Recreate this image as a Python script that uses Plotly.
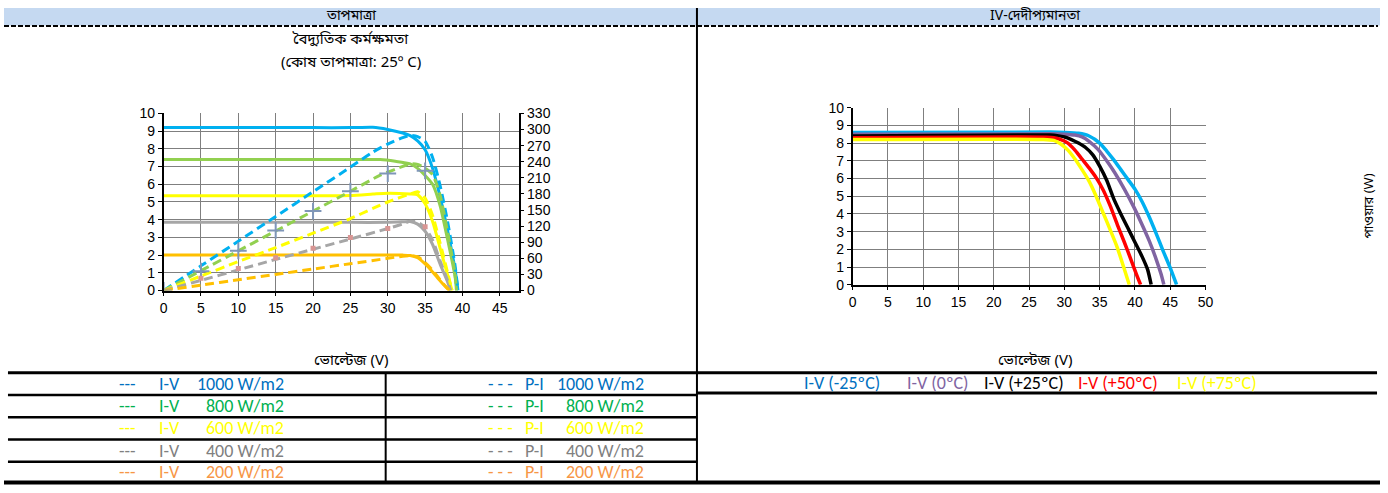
import plotly.graph_objects as go

W, H = 1388, 493


def px(x):
    return x / W


def py(y):
    return 1 - y / H


# ---------------- Left chart: irradiance (cell temperature 25 C) ----------------
IRR_LABELS = ["1000 W/m2", "800 W/m2", "600 W/m2", "400 W/m2", "200 W/m2"]

V_1000 = [0, 5, 10, 15, 20, 25, 28, 30, 32, 33, 34, 35, 36, 37, 38, 39, 39.4]
I_1000 = [9.2, 9.2, 9.2, 9.2, 9.2, 9.2, 9.22, 9.1, 8.9, 8.75, 8.45, 7.95, 6.9, 5.3, 3.4, 1.2, 0]
P_1000 = [0, 46, 92, 138, 184, 230, 258, 273, 285, 289, 287, 278, 248, 196, 129, 47, 0]

V_800 = [0, 5, 10, 15, 20, 25, 29, 31, 33, 34, 35, 36, 37, 38, 39, 39.2]
I_800 = [7.4, 7.4, 7.4, 7.4, 7.4, 7.4, 7.4, 7.3, 7.15, 6.9, 6.5, 6.0, 4.8, 2.9, 0.8, 0]
P_800 = [0, 37, 74, 111, 148, 185, 215, 226, 236, 235, 228, 216, 178, 110, 31, 0]

V_600 = [0, 5, 10, 15, 20, 25, 28, 30, 33, 34, 35, 36, 37, 38, 38.6]
I_600 = [5.35, 5.35, 5.35, 5.35, 5.35, 5.37, 5.45, 5.5, 5.45, 5.4, 4.9, 3.9, 2.4, 0.9, 0]
P_600 = [0, 27, 54, 80, 107, 134, 153, 165, 180, 184, 172, 140, 89, 34, 0]

V_400 = [0, 5, 10, 15, 20, 25, 30, 32, 33, 34, 35, 36, 37, 38, 38.4]
I_400 = [3.85, 3.85, 3.85, 3.85, 3.85, 3.85, 3.85, 3.88, 3.9, 3.75, 3.35, 2.6, 1.5, 0.5, 0]
P_400 = [0, 19, 38.5, 58, 77, 96, 115.5, 124, 129, 127.5, 117, 94, 55.5, 19, 0]

V_200 = [0, 5, 10, 15, 20, 25, 30, 32, 33, 34, 35, 36, 37, 38, 38.3]
I_200 = [2.0, 2.0, 2.0, 2.0, 2.0, 2.0, 2.0, 2.0, 1.98, 1.85, 1.5, 1.05, 0.55, 0.1, 0]
P_200 = [0, 10, 20, 30, 40, 50, 60, 64, 65, 63, 52, 38, 20, 4, 0]

CROSS_V = [0, 5, 10, 15, 20, 25, 30, 35]
CROSS_P = [0, 36, 74, 112, 148, 185, 218, 223]
SQUARE_V = [5, 10, 15, 20, 25, 30, 35]
SQUARE_P = [23, 41, 61, 79, 99, 115.5, 119]

IRR_V = [V_1000, V_800, V_600, V_400, V_200]
IRR_I = [I_1000, I_800, I_600, I_400, I_200]
IRR_P = [P_1000, P_800, P_600, P_400, P_200]
IRR_COLORS = ["#00b0f0", "#92d050", "#ffff00", "#a6a6a6", "#ffc000"]
IRR_TEXT_COLORS = ["#0070c0", "#00b050", "#ffff00", "#808080", "#f79646"]

# ---------------- Right chart: temperature ----------------
TEMP_LABELS = ["I-V (-25ºC)", "I-V (0ºC)", "I-V (+25ºC)", "I-V (+50ºC)", "I-V (+75ºC)"]

V_m25 = [0, 28, 30, 32, 33.5, 35, 36, 37, 38, 39, 40, 41, 42, 43, 44, 45, 45.9]
I_m25 = [8.6, 8.62, 8.6, 8.55, 8.4, 8.0, 7.55, 7.05, 6.5, 5.95, 5.4, 4.7, 3.85, 2.9, 1.9, 0.95, 0]

V_0 = [0, 28, 30, 31.5, 32.5, 33.5, 34.8, 36, 37.1, 38.5, 39.9, 41, 42, 43, 43.7, 44.1]
I_0 = [8.5, 8.52, 8.5, 8.45, 8.35, 8.1, 7.63, 7.0, 6.35, 5.4, 4.34, 3.4, 2.5, 1.45, 0.6, 0]

V_p25 = [0, 28, 29, 30, 31, 32, 33, 34, 35, 36, 37, 38, 39, 40, 41, 41.8, 42.3]
I_p25 = [8.4, 8.45, 8.42, 8.35, 8.2, 8.0, 7.75, 7.35, 6.7, 5.9, 4.85, 4.0, 3.2, 2.4, 1.6, 0.85, 0]

V_p50 = [0, 27.5, 28.5, 29.5, 30.5, 31.5, 32.5, 33.5, 34.5, 35.5, 36.5, 37.5, 38.5, 39.5, 40.2, 40.8]
I_p50 = [8.3, 8.33, 8.3, 8.2, 8.0, 7.6, 7.1, 6.6, 6.05, 5.35, 4.45, 3.4, 2.4, 1.35, 0.6, 0]

V_p75 = [0, 27, 28.5, 29.5, 30.5, 31.5, 32.5, 33.5, 34.5, 35.5, 36.5, 37.5, 38.4, 39.2]
I_p75 = [8.2, 8.2, 8.15, 7.95, 7.6, 7.1, 6.5, 5.85, 5.0, 4.05, 3.1, 2.1, 1.0, 0]

TEMP_V = [V_m25, V_0, V_p25, V_p50, V_p75]
TEMP_I = [I_m25, I_0, I_p25, I_p50, I_p75]
TEMP_COLORS = ["#00b0f0", "#8064a2", "#000000", "#ff0000", "#ffff00"]
TEMP_TEXT_COLORS = ["#0070c0", "#8064a2", "#000000", "#ff0000", "#ffff00"]

X_TICKS_L = [0, 5, 10, 15, 20, 25, 30, 35, 40, 45]
Y_TICKS = [0, 1, 2, 3, 4, 5, 6, 7, 8, 9, 10]
Y2_TICKS = [0, 30, 60, 90, 120, 150, 180, 210, 240, 270, 300, 330]
X_TICKS_R = [0, 5, 10, 15, 20, 25, 30, 35, 40, 45, 50]

BN_FONT = "Noto Sans Bengali, Noto Sans, Lohit Bengali, sans-serif"
TXT_FONT = "Carlito, Calibri, Noto Sans, sans-serif"
TICK_FONT = dict(family="Liberation Sans, Arial, sans-serif", size=14, color="#000000")

fig = go.Figure()

for v, i, c in zip(IRR_V, IRR_I, IRR_COLORS):
    fig.add_trace(go.Scatter(x=v, y=i, mode="lines", xaxis="x", yaxis="y",
                             line=dict(color=c, width=3, shape="spline", smoothing=0.6),
                             showlegend=False, hoverinfo="skip"))
for v, p, c in zip(IRR_V, IRR_P, IRR_COLORS):
    fig.add_trace(go.Scatter(x=v, y=p, mode="lines", xaxis="x", yaxis="y2",
                             line=dict(color=c, width=3, dash="9px,5px", shape="spline", smoothing=0.6),
                             showlegend=False, hoverinfo="skip"))
fig.add_trace(go.Scatter(x=CROSS_V, y=CROSS_P, mode="markers", xaxis="x", yaxis="y2",
                         marker=dict(symbol="cross-thin", size=12,
                                     line=dict(color="#7f96b8", width=2)),
                         showlegend=False, hoverinfo="skip"))
fig.add_trace(go.Scatter(x=SQUARE_V, y=SQUARE_P, mode="markers", xaxis="x", yaxis="y2",
                         marker=dict(symbol="square", size=5, color="#d99694"),
                         showlegend=False, hoverinfo="skip"))

for v, i, c in zip(TEMP_V, TEMP_I, TEMP_COLORS):
    fig.add_trace(go.Scatter(x=v, y=i, mode="lines", xaxis="x2", yaxis="y3",
                             line=dict(color=c, width=3.5, shape="spline", smoothing=0.6),
                             showlegend=False, hoverinfo="skip"))

GRID = "#7f7f7f"
common_axis = dict(showgrid=True, gridcolor=GRID, gridwidth=1.2, zeroline=False,
                   showline=True, linecolor="#000000", linewidth=1.5,
                   ticks="outside", ticklen=4, tickcolor="#000000",
                   tickfont=TICK_FONT, fixedrange=True)

fig.update_layout(
    width=W, height=H, autosize=False,
    margin=dict(l=0, r=0, t=0, b=0),
    paper_bgcolor="#ffffff", plot_bgcolor="#ffffff",
    showlegend=False,
    xaxis=dict(domain=[px(161), px(519)], range=[0, 47.5], tickvals=X_TICKS_L,
               anchor="y", **common_axis),
    yaxis=dict(domain=[py(292), py(109)], range=[0, 10], tickvals=Y_TICKS,
               anchor="x", **common_axis),
    yaxis2=dict(range=[0, 330], tickvals=Y2_TICKS, overlaying="y", side="right",
                anchor="x", showgrid=False, zeroline=False, showline=True,
                linecolor="#000000", linewidth=1.5, ticks="outside", ticklen=4,
                tickcolor="#000000", tickfont=TICK_FONT, fixedrange=True),
    xaxis2=dict(domain=[px(856), px(1212)], range=[0, 50], tickvals=X_TICKS_R,
                anchor="y3", **common_axis),
    yaxis3=dict(domain=[py(286), py(103)], range=[0, 10], tickvals=Y_TICKS,
                anchor="x2", **common_axis),
)

shapes = []
# header band
shapes.append(dict(type="rect", xref="paper", yref="paper", x0=0, x1=1, y0=py(18), y1=1,
                   fillcolor="#c5d9f1", line=dict(width=0), layer="below"))
shapes.append(dict(type="line", xref="paper", yref="paper", x0=0, x1=px(1386), y0=py(18.5), y1=py(18.5),
                   line=dict(color="#000000", width=2, dash="5px,2px")))
# vertical divider
shapes.append(dict(type="line", xref="paper", yref="paper", x0=px(699), x1=px(699), y0=py(0), y1=py(490),
                   line=dict(color="#000000", width=2)))
# left table
shapes.append(dict(type="line", xref="paper", yref="paper", x0=px(4), x1=px(699), y0=py(377), y1=py(377),
                   line=dict(color="#000000", width=3)))
for yy in [400, 423, 446, 469]:
    shapes.append(dict(type="line", xref="paper", yref="paper", x0=px(4), x1=px(699), y0=py(yy), y1=py(yy),
                       line=dict(color="#000000", width=2.5)))
shapes.append(dict(type="line", xref="paper", yref="paper", x0=px(385), x1=px(385), y0=py(377), y1=py(490),
                   line=dict(color="#000000", width=2)))
# right legend box lines
shapes.append(dict(type="line", xref="paper", yref="paper", x0=px(699), x1=px(1385), y0=py(377), y1=py(377),
                   line=dict(color="#000000", width=3)))
shapes.append(dict(type="line", xref="paper", yref="paper", x0=px(699), x1=px(1385), y0=py(398), y1=py(398),
                   line=dict(color="#000000", width=3)))
# bottom thick line
shapes.append(dict(type="line", xref="paper", yref="paper", x0=0, x1=1, y0=py(490.5), y1=py(490.5),
                   line=dict(color="#000000", width=4)))
fig.update_layout(shapes=shapes)

ann = []


def text(x, y, s, size=15, color="#000000", xanchor="center", family=BN_FONT, angle=0):
    ann.append(dict(x=px(x), y=py(y), xref="paper", yref="paper", text=s, showarrow=False,
                    xanchor=xanchor, yanchor="middle", textangle=angle,
                    font=dict(family=family, size=size, color=color)))


text(350, 9, "তাপমাত্রা", size=14)
text(1040, 9, "IV-দেদীপ্যমানতা", size=14)
text(350, 33, "বৈদ্যুতিক কর্মক্ষমতা", size=15)
text(350, 57, "(কোষ তাপমাত্রা: 25º C)", size=15)
text(350, 365, "ভোল্টেজ (V)", size=15)
text(1040, 365, "ভোল্টেজ (V)", size=15)
text(1377, 205, "পাওয়ার (W)", size=13, angle=-90)

ROW_Y = [388.5, 411.5, 434.5, 457.5, 479.5]
for lab, col, yy in zip(IRR_LABELS, IRR_TEXT_COLORS, ROW_Y):
    text(114, yy, "---", size=18, color=col, xanchor="left", family=TXT_FONT)
    text(154, yy, "I-V", size=18, color=col, xanchor="left", family=TXT_FONT)
    text(284, yy, lab, size=18, color=col, xanchor="right", family=TXT_FONT)
    text(486, yy, "- - -", size=18, color=col, xanchor="left", family=TXT_FONT)
    text(524, yy, "P-I", size=18, color=col, xanchor="left", family=TXT_FONT)
    text(648, yy, lab, size=18, color=col, xanchor="right", family=TXT_FONT)

TEMP_X = [805, 909, 987, 1081, 1181]
for lab, col, xx in zip(TEMP_LABELS, TEMP_TEXT_COLORS, TEMP_X):
    text(xx, 387.5, lab, size=18, color=col, xanchor="left", family=TXT_FONT)

fig.update_layout(annotations=ann)

fig.write_html("out.html", config={"displayModeBar": False},
               post_script="document.body.style.margin='0';document.body.style.overflow='hidden';")
